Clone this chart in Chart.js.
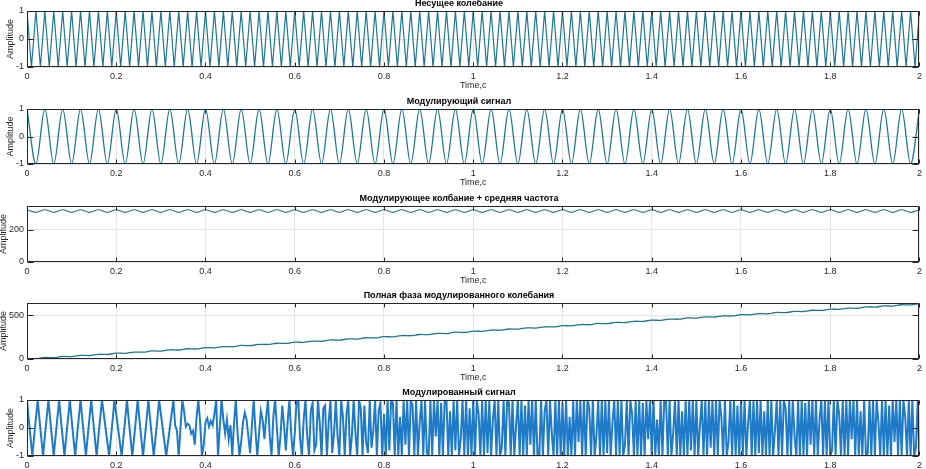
<!DOCTYPE html>
<html>
<head>
<meta charset="utf-8">
<script src="https://cdn.jsdelivr.net/npm/chart.js@4.4.0/dist/chart.umd.min.js"></script>
<style>
  html, body { margin: 0; padding: 0; background: #fff; overflow: hidden; }
  body { width: 926px; height: 469px; position: relative; }
  canvas { position: absolute; left: -4px; }
</style>
</head>
<body>
<canvas id="c1"></canvas>
<canvas id="c2"></canvas>
<canvas id="c3"></canvas>
<canvas id="c4"></canvas>
<canvas id="c5"></canvas>
<script>
// tick labels
const timeTicks = [0, 0.2, 0.4, 0.6, 0.8, 1, 1.2, 1.4, 1.6, 1.8, 2];
const unitTicks = [-1, 0, 1];
const freqTicks = [0, 200];
const phaseTicks = [0, 500];

const titles = [
  "Несущее колебание",
  "Модулирующий сигнал",
  "Модулирующее колбание + средняя частота",
  "Полная фаза модулированного колебания",
  "Модулированный сигнал"
];

// carrier, peaks and troughs every 0.01 s
const carrierStep = 0.01;
const carrier = [
  1,-1,1,-1,1,-1,1,-1,1,-1,1,-1,1,-1,1,-1,1,-1,1,-1,
  1,-1,1,-1,1,-1,1,-1,1,-1,1,-1,1,-1,1,-1,1,-1,1,-1,
  1,-1,1,-1,1,-1,1,-1,1,-1,1,-1,1,-1,1,-1,1,-1,1,-1,
  1,-1,1,-1,1,-1,1,-1,1,-1,1,-1,1,-1,1,-1,1,-1,1,-1,
  1,-1,1,-1,1,-1,1,-1,1,-1,1,-1,1,-1,1,-1,1,-1,1,-1,
  1,-1,1,-1,1,-1,1,-1,1,-1,1,-1,1,-1,1,-1,1,-1,1,-1,
  1,-1,1,-1,1,-1,1,-1,1,-1,1,-1,1,-1,1,-1,1,-1,1,-1,
  1,-1,1,-1,1,-1,1,-1,1,-1,1,-1,1,-1,1,-1,1,-1,1,-1,
  1,-1,1,-1,1,-1,1,-1,1,-1,1,-1,1,-1,1,-1,1,-1,1,-1,
  1,-1,1,-1,1,-1,1,-1,1,-1,1,-1,1,-1,1,-1,1,-1,1,-1,
  1
];

// modulating signal, peaks and troughs every 0.02 s
const modStep = 0.02;
const modulating = [
  1,-1,1,-1,1,-1,1,-1,1,-1,1,-1,1,-1,1,-1,1,-1,1,-1,
  1,-1,1,-1,1,-1,1,-1,1,-1,1,-1,1,-1,1,-1,1,-1,1,-1,
  1,-1,1,-1,1,-1,1,-1,1,-1,1,-1,1,-1,1,-1,1,-1,1,-1,
  1,-1,1,-1,1,-1,1,-1,1,-1,1,-1,1,-1,1,-1,1,-1,1,-1,
  1,-1,1,-1,1,-1,1,-1,1,-1,1,-1,1,-1,1,-1,1,-1,1,-1,
  1
];

// modulating + mean frequency
const freqStep = 0.02;
const instFreq = [
  322,306,322,306,322,306,322,306,322,306,322,306,322,306,322,306,322,306,322,306,
  322,306,322,306,322,306,322,306,322,306,322,306,322,306,322,306,322,306,322,306,
  322,306,322,306,322,306,322,306,322,306,322,306,322,306,322,306,322,306,322,306,
  322,306,322,306,322,306,322,306,322,306,322,306,322,306,322,306,322,306,322,306,
  322,306,322,306,322,306,322,306,322,306,322,306,322,306,322,306,322,306,322,306,
  322
];

// full phase
const phaseStep = 0.02;
const fullPhase = [
  0, 2, 17, 15, 29, 27, 42, 40, 54, 53, 67, 65, 79, 78, 92, 90, 105, 103, 117, 115,
  130, 128, 142, 141, 155, 153, 167, 166, 180, 178, 192, 191, 205, 203, 218, 216, 230, 228, 243, 241,
  255, 254, 268, 266, 280, 279, 293, 291, 306, 304, 318, 316, 331, 329, 343, 342, 356, 354, 368, 367,
  381, 379, 394, 392, 406, 404, 419, 417, 431, 430, 444, 442, 456, 455, 469, 467, 482, 480, 494, 492,
  507, 505, 519, 517, 532, 530, 544, 543, 557, 555, 569, 568, 582, 580, 595, 593, 607, 605, 620, 618,
  632
];

// modulated signal
const signalStep = 0.004;
const modulated = [
  1, 0.3, -0.35, -1, -0.3, 0.35, 1,
  0.3, -0.35, -1, -0.3, 0.35, 1,
  0.3, -0.35, -1, -0.3, 0.35, 1,
  0.3, -0.35, -1, -0.3, 0.35, 1,
  0.3, -0.35, -1, -0.3, 0.35, 1,
  0.3, -0.35, -1, -0.3, 0.35, 1,
  0.3, -0.35, -1, -0.3, 0.35, 1,
  0.5, 0, -0.5, -1, -0.35, 0.3, 1,
  0.5, 0, -0.5, -1, -0.35, 0.3, 1,
  0.3, -0.35, -1, -0.35, 0.3, 1,
  0.3, -0.35, -1, -0.35, 0.3, 1,
  0.3, -0.35, -1, -0.35, 0.3, 1,
  0.5, 0, -0.5, -1, -0.5, 0, 0.5, 1,
  0.1, -0.1, -1, 0, 1, 0.6, 0.05, 0.15, 0.1, -0.2,
  -0.1, -0.6, 0.4, 1, 0.2, -1, -0.6, 0.2, 0.35, 0.05,
  0.25, 0.1, 0.5, 1, -1, 0, 1, 0.3, -0.2, 0.3,
  -0.4, 0.1, -1, 0.2, 1, -0.2, -1, -0.5, 0.2, 0.55,
  0.3, -0.3, -0.9, 0.1, 1, -0.1, -1, -0.2, 0.6, 0.3,
  -0.4, 0.4, 1, -0.3, -1, 0.4, 1, 0, -1, -0.3,
  0.8, 0.1, -0.8, 0.2, 1, -0.2, -1, -0.2, 0.9, 1,
  -0.4, -1, 0.3, 1, -0.3, -1, 0.6, 0.9, -0.8, -0.6,
  1, 0.2, -1, 0.7, 0.8, -1, 0.2, 1, -0.9, -0.2,
  1, -0.3, -1, 1, 0.4, -1, 0.5, 1, -1, -0.3,
  1, -0.2, -1, 1, 0.7, -1, 0.8, -0.5, -0.9, 1,
  -0.7, -0.1, 1, -1, 0.6, 0.9, -1, 0.5,
  -1, 1, -0.8, 1, 0.9, -1, 1, -1, 0.4, -1, 1, -0.6, 1, -1, 1, 0.8, -1, 1, -1, 0.2,
  1, -1, 1, -0.9, -1, 1, -1, 1, -0.3, 1, -1, 0.9, -1, 1, 1, -1, 0.6, -1, 1, -0.8,
  1, -1, -0.4, 1, -1, 1, -1, 0.7, -1, 1, -1, 1, 0.5, -1, 1, -1, 1, -0.9, 1, -1,
  0.3, 1, -1, 1, -1, -0.7, 1, -1, 1, 0.9, -1, 1, -1, 0.1, 1, -1, 1, -1, 0.8, -1,
  1, -0.6, 1, -1, 1, -1, -1, 1, -1, 0.6, 1, -1, 1, -0.2, -1, 1, -1, 1, -1, 0.9,
  -1, 1, -1, 0.4, -1, 1, -1, 1, -0.5, 1, -1, 1, -1, 1, 0.7, -1, 1, -1, -0.3, 1,
  -1, 1, -1, 1, -0.9, 1, -1, 0.2, 1, -1, 1, -1, 1, -1, -0.6, 1, -1, 1, 0.5, -1,
  1, -1, 1, -1, 0.9, -1, 1, -0.4, 1, -1, 1, -1, 0.3, -1, 1, -1, 1, 1, -1, 1,
  -1, -0.2, 1, -1, 1, -1, 0.6, -1, 1, -1, 1, -0.8, 1, -1, 1, -1, 0.1, 1, -1, 1,
  -1, 1, -0.7, 1, -1, 1, -1, 1, 0.4, -1, 1, -1, -0.5, 1, -1, 1, -1, 0.8, -1, 1,
  -1, 1, -1, 0.2, 1, -1, 1, -1, 1, -0.9, 1, -1, 0.6, -1, 1, -1, 1, -1, -0.1, 1,
  -1, 1, -1, 1, 0.7, -1, 1, -1, 1, -0.3, -1, 1, -1, 1, -1, 0.9, -1, 1, -0.6, 1,
  -1, 1, -1, 0.3, 1, -1, 1, -1, 1, -1, -0.8, 1, -1, 1, 0.5, -1, 1, -1, 1, -1,
  1, -0.4, 1, -1, 1, -1, 0.6, -1, 1, -1, -0.9, 1, -1, 1, -1, 1, 0.2, -1, 1, -1,
  1, -1, 0.8, -1, 1, -0.5, 1, -1, 1, -1, 1, 0.4, -1, 1, -1, 1, -1, -0.7, 1, -1
];

// axes boxes (top / bottom of each plot area, px)
const plotTop = [11, 109, 206, 303, 400];
const plotBottom = [67, 164, 262, 359, 456];

const family = '"Liberation Sans", Arial, sans-serif';
const textColor = '#262626';
const gridColor = '#e4e4e4';

Chart.defaults.font.family = family;

// matlab-like frame: box around axes and inward tick marks
const boxPlugin = {
  id: 'box',
  afterDatasetsDraw(chart) {
    const ctx = chart.ctx;
    const a = chart.chartArea;
    const sx = chart.scales.x, sy = chart.scales.y;
    const l = Math.round(a.left) + 0.5, r = Math.round(a.right) - 0.5;
    const t = Math.round(a.top) + 0.5, b = Math.round(a.bottom) - 0.5;
    ctx.save();
    ctx.strokeStyle = textColor;
    ctx.lineWidth = 1;
    ctx.beginPath();
    sx.ticks.forEach(function(tk) {
      const px = Math.round(sx.getPixelForValue(tk.value)) + 0.5;
      ctx.moveTo(px, b); ctx.lineTo(px, b - 4);
      ctx.moveTo(px, t); ctx.lineTo(px, t + 4);
    });
    sy.ticks.forEach(function(tk) {
      const py = Math.round(sy.getPixelForValue(tk.value)) + 0.5;
      ctx.moveTo(l, py); ctx.lineTo(l + 6, py);
      ctx.moveTo(r, py); ctx.lineTo(r - 6, py);
    });
    ctx.stroke();
    ctx.strokeRect(l, t, r - l, b - t);
    ctx.restore();
  }
};

function makePlot(idx, values, step, yTicks, yMin, yMax, color, width, curve, ytitlePad) {
  const canvas = document.getElementById('c' + (idx + 1));
  const h = plotBottom[idx] - plotTop[idx];
  canvas.width = 930;
  canvas.height = 13 + h + 25;
  canvas.style.top = (plotTop[idx] - 13) + 'px';
  const labels = values.map(function(v, i) { return +(i * step).toFixed(4); });

  return new Chart(canvas.getContext('2d'), {
    type: 'line',
    data: {
      labels: labels,
      datasets: [{
        data: values,
        borderColor: color,
        borderWidth: width,
        pointRadius: 0,
        fill: false,
        tension: curve === 'bezier' ? 0.4 : 0,
        cubicInterpolationMode: curve === 'monotone' ? 'monotone' : 'default'
      }]
    },
    options: {
      responsive: false,
      animation: false,
      devicePixelRatio: 1,
      layout: { padding: { left: 0, right: 4, top: 0, bottom: 0 } },
      plugins: {
        legend: { display: false },
        tooltip: { enabled: false },
        title: {
          display: true,
          text: titles[idx],
          color: '#000',
          font: { size: 9, weight: 'bold', lineHeight: '12px' },
          padding: { top: 0, bottom: 1 }
        }
      },
      scales: {
        x: {
          type: 'linear',
          min: 0,
          max: 2,
          afterBuildTicks: function(s) { s.ticks = timeTicks.map(function(v) { return { value: v }; }); },
          afterFit: function(s) { s.height = 25; },
          grid: { color: gridColor, drawTicks: false },
          border: { display: false },
          ticks: {
            padding: 4, maxRotation: 0, autoSkip: false, color: textColor,
            font: { size: 9 },
            callback: function(v) { return String(v); }
          },
          title: {
            display: true, text: 'Time,c', color: textColor,
            font: { size: 9, lineHeight: '12px' }, padding: 0
          }
        },
        y: {
          min: yMin,
          max: yMax,
          afterBuildTicks: function(s) { s.ticks = yTicks.map(function(v) { return { value: v }; }); },
          afterFit: function(s) { s.width = 31; },
          grid: { color: gridColor, drawTicks: false },
          border: { display: false },
          ticks: {
            padding: 3, color: textColor, font: { size: 9 },
            callback: function(v) { return String(v); }
          },
          title: {
            display: true, text: 'Amplitude', color: textColor,
            font: { size: 9, lineHeight: '12px' }, padding: { top: ytitlePad, bottom: 0 }
          }
        }
      }
    },
    plugins: [boxPlugin]
  });
}

makePlot(0, carrier, carrierStep, unitTicks, -1, 1, '#1d7790', 1.2, 'straight', 9);
makePlot(1, modulating, modStep, unitTicks, -1, 1, '#1d7790', 1.3, 'monotone', 9);
makePlot(2, instFreq, freqStep, freqTicks, 0, 345, '#1d7790', 1.2, 'monotone', 2);
makePlot(3, fullPhase, phaseStep, phaseTicks, 0, 640, '#1d7790', 1.3, 'bezier', 2);
makePlot(4, modulated, signalStep, unitTicks, -1, 1, '#1f7bc8', 2, 'straight', 9);
</script>
</body>
</html>
